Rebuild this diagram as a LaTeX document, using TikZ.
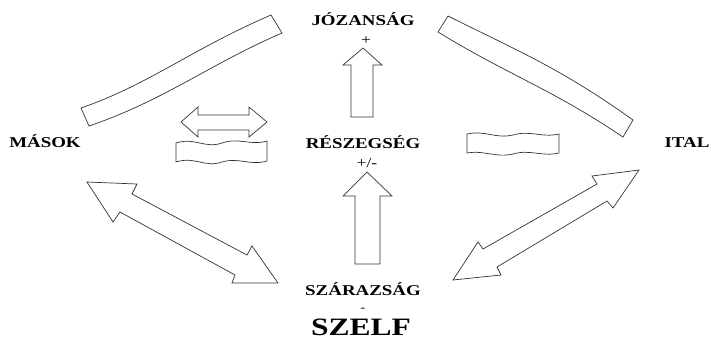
\documentclass[tikz,border=0pt]{standalone}
\usepackage{fontspec}
\newfontfamily\lbl[FakeStretch=1.26]{Liberation Serif}
\begin{document}
\begin{tikzpicture}[x=1pt,y=-1pt,
  shp/.style={draw=black!80,line width=0.7pt,fill=white,line join=miter},
  lab/.style={font=\lbl\bfseries\fontsize{15}{18}\selectfont,anchor=base,inner sep=0pt},
  sgn/.style={font=\lbl\fontsize{14}{16}\selectfont,anchor=base,inner sep=0pt}]
\useasboundingbox (0,0) rectangle (711,341);
% labels
\node[lab] (joz) at (363,25) {JÓZANSÁG};
\node[sgn] (plus) at (366,44) {+};
\node[lab] (masok) at (45,147) {MÁSOK};
\node[lab] (ital) at (687,147) {ITAL};
\node[lab] (resz) at (363,148) {RÉSZEGSÉG};
\node[sgn] (pm) at (367,167) {+/-};
\node[lab] (szar) at (363,295) {SZÁRAZSÁG};
\node[sgn,font=\lbl\fontsize{12}{14}\selectfont] (minus) at (363,311) {-};
\node[font=\lbl\bfseries\fontsize{25}{30}\selectfont,anchor=base,inner sep=0pt] (szelf) at (361,335) {SZELF};
% vertical block arrows
\draw[shp] (363,48) -- (382,65) -- (373,65) -- (373,117) -- (351,117) -- (351,65) -- (343,65) -- cycle;
\draw[shp] (367,172) -- (392,196) -- (380,196) -- (380,264) -- (355,264) -- (355,196) -- (343,196) -- cycle;
% top-left wave band
\draw[shp] (81,108) .. controls (150,84) and (190,50) .. (271,15) -- (282,33)
  .. controls (210,64) and (165,100) .. (89,126) -- cycle;
% top-right wave band
\draw[shp] (448,16) .. controls (520,52) and (560,68) .. (633,120) -- (623,137)
  .. controls (550,88) and (510,76) .. (438,32) -- cycle;
% small horizontal double arrow
\draw[shp] (181,122) -- (198,107) -- (198,115) -- (249,115) -- (249,107) -- (267,122)
  -- (249,137) -- (249,130) -- (198,130) -- (198,137) -- cycle;
% wavy rectangles
\draw[shp] (176,143) .. controls (195,137) and (205,149) .. (222,143)
  .. controls (239,137) and (250,146) .. (267,141) -- (267,161)
  .. controls (250,166) and (239,157) .. (222,162)
  .. controls (205,168) and (195,156) .. (176,162) -- cycle;
\draw[shp] (467,134) .. controls (485,130) and (495,139) .. (513,135)
  .. controls (530,130) and (542,138) .. (559,134) -- (559,153)
  .. controls (542,157) and (530,149) .. (513,154)
  .. controls (495,158) and (485,150) .. (467,153) -- cycle;
% bottom-left double arrow
\draw[shp] (87,182) -- (137,184) -- (132,194) -- (247,255) -- (252,246) -- (278,283)
  -- (232,283) -- (235,275) -- (120,212) -- (113,222) -- cycle;
% bottom-right double arrow
\draw[shp] (639,170) -- (613,208) -- (607,201) -- (497,267) -- (501,275) -- (453,280)
  -- (478,242) -- (483,249) -- (597,184) -- (592,176) -- cycle;
\end{tikzpicture}
\end{document}
